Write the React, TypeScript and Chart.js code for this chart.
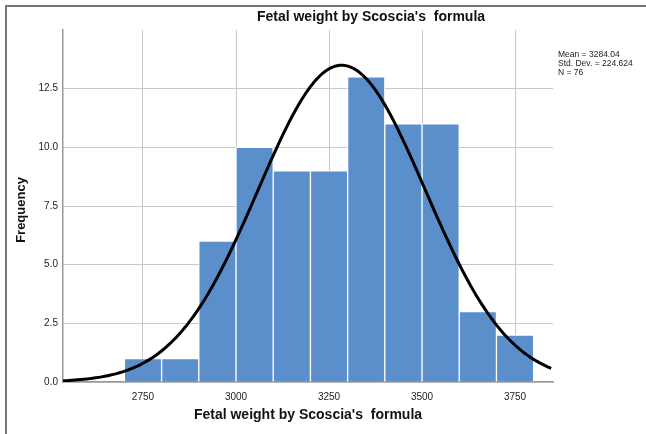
import React, { useEffect, useRef } from "react";
import { Chart, registerables } from "chart.js";

Chart.register(...registerables);

const binCenters = [2750, 2850, 2950, 3050, 3150, 3250, 3350, 3450, 3550, 3650, 3750];
const counts = [1, 1, 6, 10, 9, 9, 13, 11, 11, 3, 2];
const xTicks = [2750, 3000, 3250, 3500, 3750];
const yTicks = [0, 2.5, 5, 7.5, 10, 12.5];
const stats = { mean: 3284.04, sd: 224.624, n: 76, binWidth: 100 };
const statLines = ["Mean = 3284.04", "Std. Dev. = 224.624", "N = 76"];
const titleText = "Fetal weight by Scoscia's  formula";
const xTitle = "Fetal weight by Scoscia's  formula";
const yTitle = "Frequency";

const X_MIN = 2535;
const X_MAX = 3852;

function normalCurve() {
  const pts: { x: number; y: number }[] = [];
  const k = (stats.n * stats.binWidth) / (stats.sd * Math.sqrt(2 * Math.PI));
  for (let x = X_MIN; x <= X_MAX; x += 8) {
    const z = (x - stats.mean) / stats.sd;
    pts.push({ x, y: k * Math.exp(-0.5 * z * z) });
  }
  return pts;
}

const textPlugin = {
  id: "texts",
  afterDraw(chart: any) {
    const ctx = chart.ctx;
    const area = chart.chartArea;
    ctx.save();
    ctx.fillStyle = "#111";
    ctx.textAlign = "center";
    ctx.textBaseline = "middle";
    ctx.font = "bold 14px 'Liberation Sans', Arial, sans-serif";
    ctx.fillText(titleText, 371, 17);
    ctx.fillText(xTitle, (area.left + area.right) / 2, 415);
    ctx.save();
    ctx.font = "bold 13px 'Liberation Sans', Arial, sans-serif";
    ctx.translate(21, 210);
    ctx.rotate(-Math.PI / 2);
    ctx.fillText(yTitle, 0, 0);
    ctx.restore();
    ctx.textAlign = "left";
    ctx.font = "8.5px 'Liberation Sans', Arial, sans-serif";
    ctx.fillStyle = "#222";
    statLines.forEach((s, i) => ctx.fillText(s, 558, 55 + i * 9));
    ctx.restore();
  },
};

export default function App() {
  const ref = useRef<HTMLCanvasElement>(null);
  useEffect(() => {
    document.body.style.margin = "0";
    const chart = new Chart(ref.current!, {
      type: "bar",
      data: {
        datasets: [
          {
            type: "line",
            data: normalCurve(),
            borderColor: "#000",
            borderWidth: 3,
            pointRadius: 0,
            tension: 0,
            fill: false,
            order: 0,
          } as any,
          {
            type: "bar",
            data: binCenters.map((x, i) => ({ x, y: counts[i] })),
            backgroundColor: "#5b8fcc",
            borderColor: "#ffffff",
            borderWidth: 1,
            barPercentage: 1,
            categoryPercentage: 1,
            order: 1,
          } as any,
        ],
      },
      options: {
        animation: false,
        responsive: false,
        layout: { padding: { left: 0, top: 30, right: 93, bottom: 0 } },
        plugins: { legend: { display: false }, tooltip: { enabled: false } },
        scales: {
          x: {
            type: "linear",
            min: X_MIN,
            max: X_MAX,
            offset: false,
            afterBuildTicks: (s: any) => {
              s.ticks = xTicks.map((v) => ({ value: v }));
            },
            afterFit: (s: any) => {
              s.height = 52;
            },
            grid: { color: "#c8c8c8", lineWidth: 1, drawTicks: false, offset: false },
            border: { color: "#999", width: 1.5 },
            ticks: {
              padding: 9,
              color: "#222",
              font: { size: 10, family: "'Liberation Sans', Arial, sans-serif" },
              maxRotation: 0,
              callback: (v: any) => String(v),
            },
          },
          y: {
            min: 0,
            max: 15,
            afterBuildTicks: (s: any) => {
              s.ticks = yTicks.map((v) => ({ value: v }));
            },
            afterFit: (s: any) => {
              s.width = 63;
            },
            grid: { color: "#c8c8c8", lineWidth: 1, drawTicks: false },
            border: { color: "#999", width: 1.5 },
            ticks: {
              padding: 5,
              color: "#222",
              font: { size: 10, family: "'Liberation Sans', Arial, sans-serif" },
              callback: (v: any) => Number(v).toFixed(1),
            },
          },
        },
      },
      plugins: [textPlugin],
    });
    return () => chart.destroy();
  }, []);
  return (
    <div style={{ position: "relative", width: 646, height: 434, background: "#fff" }}>
      <canvas ref={ref} width={646} height={434} style={{ display: "block" }} />
      <div
        style={{
          position: "absolute",
          left: 5,
          top: 5,
          width: 660,
          height: 460,
          borderLeft: "2px solid #777",
          borderTop: "2px solid #777",
          pointerEvents: "none",
          boxSizing: "border-box",
        }}
      />
    </div>
  );
}
